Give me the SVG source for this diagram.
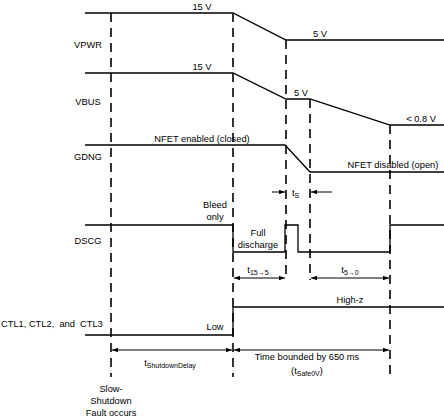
<svg xmlns="http://www.w3.org/2000/svg" width="444" height="417" viewBox="0 0 444 417">
<style>
text{font-family:"Liberation Sans",Arial,sans-serif;font-size:9.3px;fill:#000}
.m{text-anchor:middle}
.sub{font-size:7px}
.sig{fill:none;stroke:#000;stroke-width:1.3}
.dash{fill:none;stroke:#000;stroke-width:1.6;stroke-dasharray:9 6}
.arr{fill:none;stroke:#000;stroke-width:1}
</style>
<defs>
<marker id="ah" viewBox="0 0 8 6" refX="8" refY="3" markerWidth="6" markerHeight="4.5" orient="auto-start-reverse" markerUnits="userSpaceOnUse">
<path d="M0,0 L8,3 L0,6 z" fill="#000"/>
</marker>
</defs>
<g id="connectors">
<line class="dash" x1="111" y1="13" x2="111" y2="377"/>
<line class="dash" x1="233" y1="13" x2="233" y2="377"/>
<line class="dash" x1="286" y1="40" x2="286" y2="276"/>
<line class="dash" x1="310" y1="99" x2="310" y2="280"/>
<line class="dash" x1="390" y1="125" x2="390" y2="377"/>
<line class="arr" x1="272" y1="192" x2="285" y2="192" marker-end="url(#ah)"/>
<line class="arr" x1="332" y1="192" x2="311" y2="192" marker-end="url(#ah)"/>
<line class="arr" x1="234" y1="278" x2="285" y2="278" marker-start="url(#ah)" marker-end="url(#ah)"/>
<line class="arr" x1="311" y1="278" x2="389" y2="278" marker-start="url(#ah)" marker-end="url(#ah)"/>
<line class="arr" x1="112" y1="350" x2="232" y2="350" marker-start="url(#ah)" marker-end="url(#ah)"/>
<line class="arr" x1="234" y1="350" x2="389" y2="350" marker-start="url(#ah)" marker-end="url(#ah)"/>
</g>
<g id="vpwr">
<polyline class="sig" points="85,13 233,13 286,40 444,40"/>
<text class="m" x="88" y="48">VPWR</text>
<text class="m" x="202" y="10">15 V</text>
<text class="m" x="320" y="37">5 V</text>
</g>
<g id="vbus">
<polyline class="sig" points="85,73 233,73 286,99 310,99 390,125 444,125"/>
<text class="m" x="88" y="105">VBUS</text>
<text class="m" x="202" y="70">15 V</text>
<text class="m" x="301" y="96">5 V</text>
<text class="m" x="421" y="122">&lt; 0.8 V</text>
</g>
<g id="gdng">
<polyline class="sig" points="85,145 285,145 310,172 444,172"/>
<text class="m" x="88" y="160">GDNG</text>
<text class="m" x="202" y="142">NFET enabled (closed)</text>
<text class="m" x="393" y="168">NFET disabled (open)</text>
<text x="292" y="196">t<tspan class="sub" dy="2">S</tspan></text>
</g>
<g id="dscg">
<polyline class="sig" points="85,225 233,225 233,252 285,252 285,225 298,225 298,252 390,252 390,225 444,225"/>
<text class="m" x="88" y="244">DSCG</text>
<text class="m" x="215" y="208">Bleed</text>
<text class="m" x="215" y="220">only</text>
<text class="m" x="258" y="236">Full</text>
<text class="m" x="258" y="248">discharge</text>
<text class="m" x="258" y="273">t<tspan class="sub" dy="2">15→5</tspan></text>
<text class="m" x="350" y="273">t<tspan class="sub" dy="2">5→0</tspan></text>
</g>
<g id="ctl">
<polyline class="sig" points="85,335 233,335 233,307 444,307"/>
<text x="1" y="327" xml:space="preserve">CTL1, CTL2,  and  CTL3</text>
<text class="m" x="215" y="330">Low</text>
<text class="m" x="350" y="303">High-z</text>
</g>
<g id="timing">
<text class="m" x="170" y="366">t<tspan class="sub" dy="2">ShutdownDelay</tspan></text>
<text class="m" x="307" y="360">Time bounded by 650 ms</text>
<text class="m" x="307" y="374">(t<tspan class="sub" dy="2">Safe0V</tspan><tspan dy="-2">)</tspan></text>
<text class="m" x="111" y="392">Slow-</text>
<text class="m" x="111" y="404">Shutdown</text>
<text class="m" x="111" y="416">Fault occurs</text>
</g>
</svg>
